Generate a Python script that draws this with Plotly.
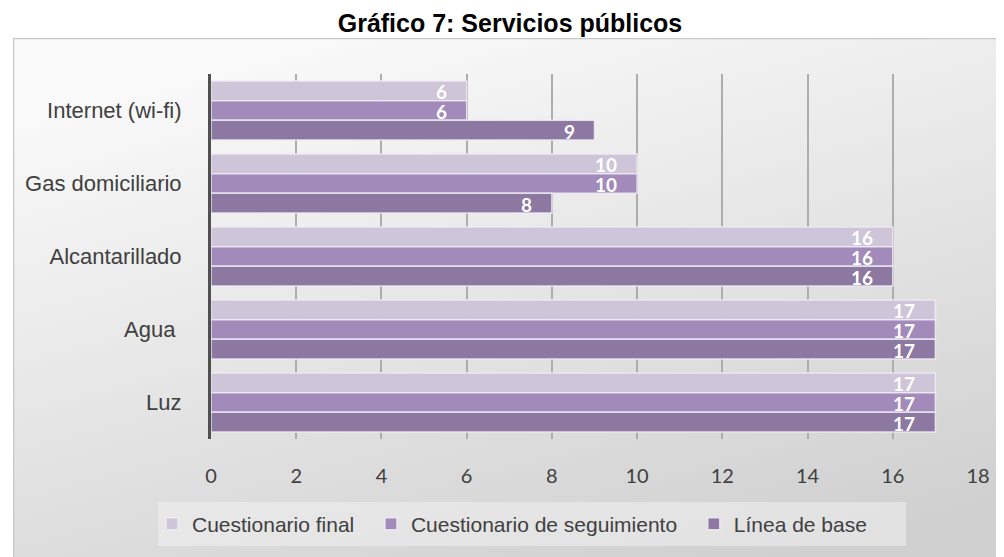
import base64
import plotly.graph_objects as go

categories = ["Internet (wi-fi)", "Gas domiciliario", "Alcantarillado", "Agua ", "Luz"]
series_names = ["Cuestionario final", "Cuestionario de seguimiento", "Línea de base"]
final_vals = [6, 10, 16, 17, 17]
seguimiento_vals = [6, 10, 16, 17, 17]
base_vals = [9, 8, 16, 17, 17]
x_ticks = [0, 2, 4, 6, 8, 10, 12, 14, 16, 18]

colors = ["#CEC6D8", "#A28BBA", "#8D78A1"]
all_vals = [final_vals, seguimiento_vals, base_vals]

W, H = 1004, 557
L, R, T, B = 203, 34, 66, 126
PW, PH = W - L - R, H - T - B


def px_x(px):
    return (px - L) / PW


def px_y(py):
    return (H - B - py) / PH


NB = "\u00a0\u00a0"

fig = go.Figure()
for name, vals, col in zip(series_names, all_vals, colors):
    fig.add_trace(go.Bar(
        name=name + NB, y=categories, x=vals, orientation="h",
        marker=dict(color=col, line=dict(color="rgba(240,236,246,0.85)", width=1.5)),
        hovertemplate=name + ": %{x}<extra></extra>",
    ))

# data labels
bargap = 0.19
bar_px = (1 - bargap) / 3 * (PH / len(categories))
shifts = [bar_px, 0, -bar_px]
annotations = []
for vals, sh in zip(all_vals, shifts):
    for cat, v in zip(categories, vals):
        annotations.append(dict(
            x=v, y=cat, xref="x", yref="y", text=str(v), showarrow=False,
            xanchor="right", yanchor="middle", xshift=-19, yshift=sh - 1,
            height=int(bar_px) - 2, valign="middle", borderpad=0,
            font=dict(family="Lato", size=19, color="white", weight="bold"),
        ))

svg = (
    '<svg xmlns="http://www.w3.org/2000/svg" width="995" height="525" viewBox="0 0 995 525" preserveAspectRatio="none">'
    '<defs><linearGradient id="g" x1="0.25" y1="0" x2="0.75" y2="1">'
    '<stop offset="0" stop-color="#fafafa"/><stop offset="1" stop-color="#d0d0d0"/>'
    '</linearGradient></defs>'
    '<rect x="0.5" y="0.5" width="994" height="524" fill="url(#g)" stroke="#c8c8c8" stroke-width="1.5"/>'
    '</svg>'
)
src = "data:image/svg+xml;base64," + base64.b64encode(svg.encode()).decode()

fig.update_layout(
    width=W, height=H,
    margin=dict(l=L, r=R, t=T, b=B),
    paper_bgcolor="white", plot_bgcolor="rgba(0,0,0,0)",
    barmode="group", bargap=bargap, bargroupgap=0,
    title=dict(text="<b>Gráfico 7: Servicios públicos</b>", x=0.5, xref="container",
               y=1 - 15 / H, yref="container", xanchor="center", yanchor="middle",
               font=dict(family="Liberation Sans", size=25, color="black")),
    images=[dict(source=src, xref="paper", yref="paper",
                 x=px_x(5), y=px_y(30), sizex=(1000 - 5) / PW, sizey=(555 - 30) / PH,
                 xanchor="left", yanchor="top", sizing="stretch", layer="below")],
    shapes=[dict(type="rect", xref="paper", yref="paper",
                 x0=px_x(150), x1=px_x(898), y0=px_y(538), y1=px_y(494),
                 fillcolor="rgba(240,240,240,0.55)", line=dict(width=0), layer="below")],
    legend=dict(orientation="h", x=px_x(510), xanchor="center", y=px_y(516), yanchor="middle",
                bgcolor="rgba(0,0,0,0)", font=dict(family="Liberation Sans", size=21, color="#404040"),
                itemclick=False),
    annotations=annotations,
    showlegend=True,
)
fig.update_xaxes(range=[0, 18], tickvals=x_ticks, showgrid=True, gridcolor="#adadad", gridwidth=1.5,
                 zeroline=False, showline=False, ticks="outside", ticklen=19, tickcolor="rgba(0,0,0,0)",
                 tickfont=dict(family="Lato", size=20, color="#404040"), fixedrange=True)
fig.update_yaxes(autorange="reversed", showline=True, linecolor="#505050", linewidth=3,
                 ticks="outside", ticklen=22, tickcolor="rgba(0,0,0,0)",
                 tickfont=dict(family="Liberation Sans", size=22, color="#404040"), fixedrange=True)

fig.write_html("out.html")
